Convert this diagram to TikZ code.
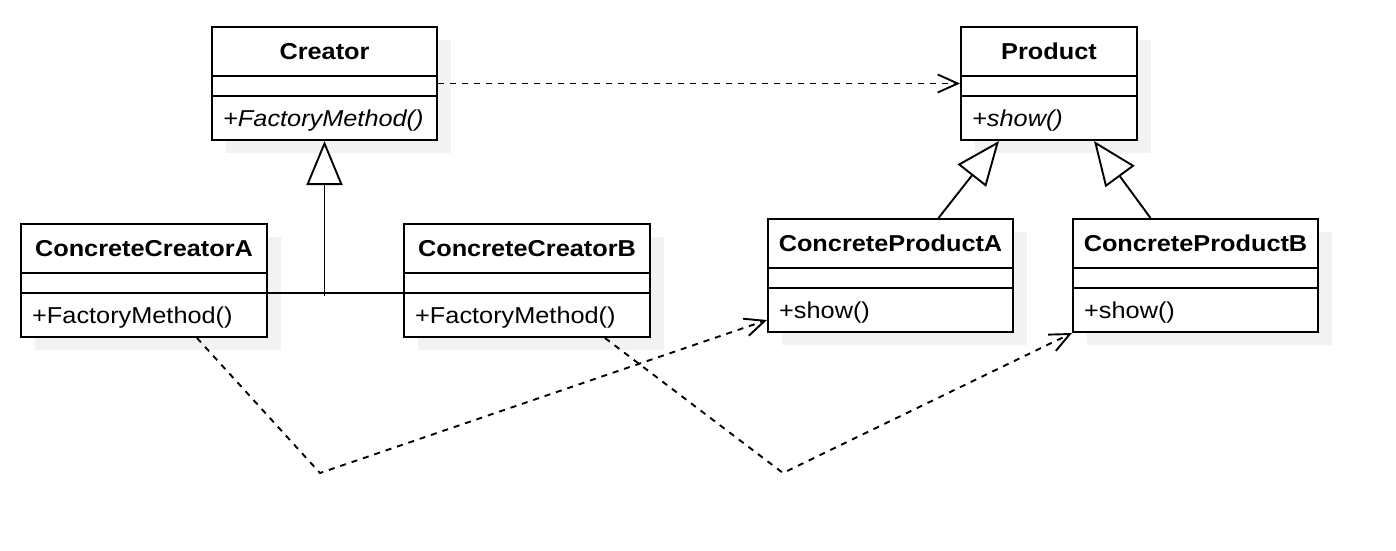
\documentclass[tikz,border=0pt]{standalone}
\usepackage{fontspec}
\setmainfont{Liberation Sans}[FakeStretch=1.1]
\usetikzlibrary{positioning,calc,arrows.meta,shadows}
\definecolor{shadowgray}{HTML}{F2F2F2}
\tikzset{
classbox/.style={
  draw,
  line width=2pt,
  fill=white,
  anchor=north west,
  inner sep=0pt,
  minimum height=113pt,
  drop shadow={shadow xshift=14pt, shadow yshift=-13pt, fill=shadowgray, opacity=1}
  },
classline/.style={line width=2pt},
classtitle/.style={font=\fontsize{23}{27}\selectfont\bfseries, anchor=base, inner sep=0pt},
classmethod/.style={font=\fontsize{23}{27}\selectfont, anchor=base west, inner sep=0pt},
inherit/.style={line width=1.9pt},
dep/.style={line width=1.9pt, dash pattern=on 6pt off 6pt, -{Straight Barb[length=20pt,width=18pt]}},
%title/.style={font=\small\sffamily}
}

\begin{document}
\begin{tikzpicture}[x=1pt, y=-1pt]
    \useasboundingbox (0,0) rectangle (1396,550);
    % classes
    \foreach \name/\x/\y/\w/\title/\method in {
        creator/211/26/225/Creator/{\textit{+FactoryMethod()}},
        product/960/26/176/Product/{\textit{+show()}},
        cca/20/223/246/ConcreteCreatorA/{+FactoryMethod()},
        ccb/403/223/246/ConcreteCreatorB/{+FactoryMethod()},
        cpa/767/218/245/ConcreteProductA/{+show()},
        cpb/1072/218/245/ConcreteProductB/{+show()}}
    {
        \node [classbox, minimum width=\w pt] (\name) at (\x,\y) {};
        \node [classtitle] (\name-title) at ($(\name.north)+(0,33)$) {\title};
        \draw [classline] ($(\name.north west)+(0,50)$) -- ($(\name.north east)+(0,50)$);
        \draw [classline] ($(\name.north west)+(0,70)$) -- ($(\name.north east)+(0,70)$);
        \node [classmethod] (\name-method) at ($(\name.north west)+(12,100)$) {\method};
    }

    % inheritance
    \coordinate (join) at ($(creator.south)+(0,155)$);
    \draw [inherit] ($(cca.north east)+(0,70)$) -- ($(ccb.north west)+(0,70)$);
    \draw [inherit, -{Triangle[length=44pt,width=36pt,fill=white]}] (join) -- (creator.south);
    \draw [inherit, -{Triangle[length=44pt,width=36pt,fill=white]}] ($(cpa.north)+(48,0)$) -- ($(product.south)+(-50,0)$);
    \draw [inherit, -{Triangle[length=44pt,width=36pt,fill=white]}] ($(cpb.north)+(-45,0)$) -- ($(product.south)+(45,0)$);

    % dependencies
    \coordinate (bendA) at (320,473);
    \coordinate (bendB) at (783,473);
    \draw [dep] (creator.east) -- (product.west);
    \draw [dep] ($(cca.south)+(53,0)$) -- (bendA) -- ($(cpa.south west)+(0,-13)$);
    \draw [dep] ($(ccb.south)+(78,0)$) -- (bendB) -- (cpb.south west);

\end{tikzpicture}
\end{document}
